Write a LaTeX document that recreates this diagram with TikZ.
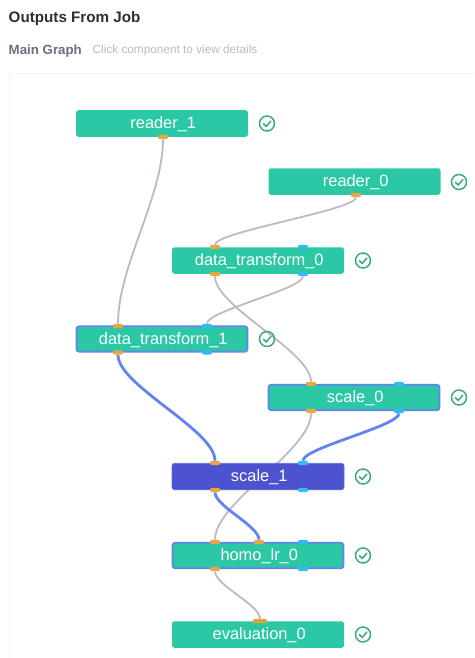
\documentclass[tikz,border=0pt]{standalone}
\usepackage{fontspec}
\setmainfont{Liberation Sans}
\usetikzlibrary{calc,backgrounds}
\definecolor{teal}{HTML}{2CC8A5}
\definecolor{indigo}{HTML}{4D52CF}
\definecolor{sel}{HTML}{6383F0}
\definecolor{porto}{HTML}{E8A83F}
\definecolor{portb}{HTML}{33BBF5}
\definecolor{edgeg}{HTML}{BDB9C6}
\definecolor{okgreen}{HTML}{3DAA80}
\definecolor{ink}{HTML}{2E2E38}
\definecolor{inkb}{HTML}{6F6E80}
\tikzset{
  comp/.style={rounded corners=2.5pt,fill=teal,text=white,minimum width=172pt,minimum height=26.5pt,inner sep=0pt,font=\fontsize{16.4}{18}\selectfont,text height=13pt,text depth=3pt,execute at begin node={\hspace*{2.5pt}}},
  chosen/.style={comp,draw=sel,line width=1.6pt,minimum width=171pt,minimum height=25.5pt},
  active/.style={comp,fill=indigo,draw=sel!70!indigo,line width=.6pt},
  po/.style={rounded corners=2pt,fill=porto,minimum width=10pt,minimum height=4.4pt,inner sep=0pt},
  pb/.style={po,fill=portb},
  gline/.style={draw=edgeg,line width=1.8pt},
  bline/.style={draw=sel,line width=2.8pt},
  okring/.style={draw=okgreen,line width=1.5pt,circle,minimum size=15pt,inner sep=0pt},
}
\newcommand{\conn}[4]{\draw[#1] (#2) .. controls ($(#2)+(0,#4)$) and ($(#3)+(0,-#4)$) .. (#3);}
\begin{document}
\begin{tikzpicture}[x=1pt,y=-1pt]
\useasboundingbox (0,0) rectangle (474,658);
\node[anchor=base west,inner sep=0pt,text=ink,font=\fontsize{15.2}{18}\selectfont\bfseries] (title) at (8.5,22.5) {Outputs From Job};
\node[anchor=base west,inner sep=0pt,text=inkb,font=\fontsize{13.3}{16}\selectfont\bfseries] (main) at (8.5,54.5) {Main Graph};
\node[anchor=base west,inner sep=0pt,text=edgeg,font=\fontsize{11.8}{14}\selectfont] (hint) at (92.5,54) {Click component to view details};

\node[comp] (r1) at (162,123.5) {reader\_1};
\node[comp] (r0) at (354.5,181.5) {reader\_0};
\node[comp] (d0) at (258,260.5) {data\_transform\_0};
\node[chosen] (d1) at (162,339) {data\_transform\_1};
\node[chosen] (s0) at (354,397.5) {scale\_0};
\node[active] (s1) at (258,476.5) {scale\_1};
\node[chosen] (h0) at (258,555.5) {homo\_lr\_0};
\node[comp] (e0) at (258,634.5) {evaluation\_0};

\node[po] (r1o) at (163,137) {};
\node[po] (r0o) at (356,195) {};
\node[po] (d0i) at (215,247) {};
\node[pb] (d0j) at (303,247) {};
\node[po] (d0o) at (215,274) {};
\node[pb] (d0p) at (303,274) {};
\node[po] (d1i) at (118,326) {};
\node[pb] (d1j) at (207,326) {};
\node[po] (d1o) at (118,352.5) {};
\node[pb] (d1p) at (207,352.5) {};
\node[po] (s0i) at (311,384) {};
\node[pb] (s0j) at (399,384) {};
\node[po] (s0o) at (311,411) {};
\node[pb] (s0p) at (399,411) {};
\node[po] (s1i) at (215,463) {};
\node[pb] (s1j) at (303,463) {};
\node[po] (s1o) at (215,490) {};
\node[pb] (s1p) at (303,490) {};
\node[po] (h0i) at (215,542) {};
\node[po] (h0k) at (259,542) {};
\node[pb] (h0j) at (303,542) {};
\node[po] (h0o) at (215,569) {};
\node[pb] (h0p) at (303,569) {};
\node[po,minimum width=14pt] (e0i) at (260,621) {};
\foreach \i in {-4,0,4} \fill[black!55!porto] ($(e0i)+(\i,0)$) circle (.7pt);

\foreach \x/\y in {267/123.5,459/182,363/260.5,267/339,459/397.5,363/476.5,363/555.5,363/634.5}{
  \node[okring] at (\x,\y) {};
  \draw[okgreen,line width=1.5pt,line cap=round,line join=round] (\x-3.6,\y+.2) -- (\x-.8,\y+3) -- (\x+3.8,\y-2.4);
}

\begin{pgfonlayer}{background}
\fill[white] (0,0) rectangle (474,658);
\draw[draw=black!4,line width=.8pt] (474,73.5) -- (9.5,73.5) -- (9.5,658);
\conn{gline}{r1o}{d1i}{60}
\conn{gline}{r0o}{d0i}{15}
\conn{gline}{d0o}{s0i}{33}
\conn{gline}{d0p}{d1j}{15}
\conn{bline}{d1o}{s1i}{33}
\conn{gline}{s0o}{h0i}{40}
\conn{bline}{s0p}{s1j}{15}
\conn{bline}{s1o}{h0k}{16}
\conn{gline}{h0o}{e0i}{16}
\end{pgfonlayer}
\end{tikzpicture}
\end{document}
